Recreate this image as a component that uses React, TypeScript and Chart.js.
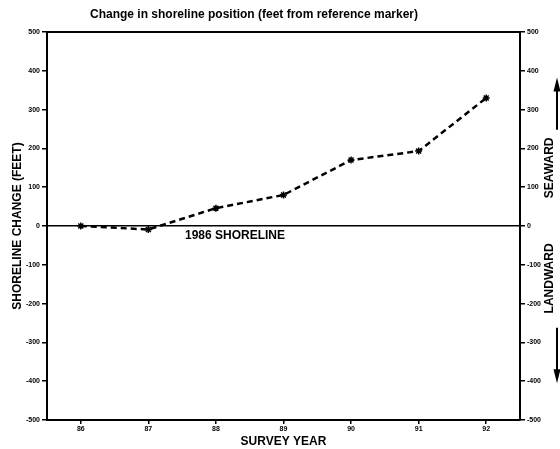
import React, { useEffect, useRef } from "react";
import { Chart, registerables } from "chart.js";

Chart.register(...registerables);

const years = ["86", "87", "88", "89", "90", "91", "92"];
const shorelineChange = [0, -9, 46, 80, 170, 193, 330];
const yMin = -500;
const yMax = 500;
const yStep = 100;
const titleText = "Change in shoreline position (feet from reference marker)";
const yTitle = "SHORELINE CHANGE (FEET)";
const xTitle = "SURVEY YEAR";
const baselineLabel = "1986 SHORELINE";
const seaward = "SEAWARD";
const landward = "LANDWARD";

const FONT = '"Liberation Sans", Arial, sans-serif';

const annotations = {
  id: "annotations",
  afterDraw(chart: any) {
    const { ctx, chartArea, scales } = chart;
    ctx.save();
    ctx.fillStyle = "#000";
    ctx.strokeStyle = "#000";
    // top border
    ctx.lineWidth = 2;
    ctx.beginPath();
    ctx.moveTo(chartArea.left, chartArea.top);
    ctx.lineTo(chartArea.right, chartArea.top);
    ctx.stroke();
    // title
    ctx.font = `bold 12px ${FONT}`;
    ctx.textAlign = "center";
    ctx.textBaseline = "middle";
    ctx.fillText(titleText, 254, 15);
    // baseline label
    const y0 = scales.y.getPixelForValue(0);
    ctx.font = `bold 12px ${FONT}`;
    ctx.textAlign = "left";
    ctx.fillText(baselineLabel, chartArea.left + 138, y0 + 10);
    // side labels
    const xs = 550;
    ctx.font = `bold 12px ${FONT}`;
    ctx.textAlign = "center";
    ctx.save();
    ctx.translate(xs, scales.y.getPixelForValue(150));
    ctx.rotate(-Math.PI / 2);
    ctx.fillText(seaward, 0, 0);
    ctx.restore();
    ctx.save();
    ctx.translate(xs, scales.y.getPixelForValue(-135));
    ctx.rotate(-Math.PI / 2);
    ctx.fillText(landward, 0, 0);
    ctx.restore();
    // arrows
    const ax = 557;
    ctx.lineWidth = 2;
    const upTail = scales.y.getPixelForValue(248);
    const upHead = scales.y.getPixelForValue(383);
    ctx.beginPath();
    ctx.moveTo(ax, upTail);
    ctx.lineTo(ax, upHead + 10);
    ctx.stroke();
    ctx.beginPath();
    ctx.moveTo(ax, upHead);
    ctx.lineTo(ax - 3.5, upHead + 14);
    ctx.lineTo(ax + 3.5, upHead + 14);
    ctx.closePath();
    ctx.fill();
    const dnTail = scales.y.getPixelForValue(-262);
    const dnHead = scales.y.getPixelForValue(-405);
    ctx.beginPath();
    ctx.moveTo(ax, dnTail);
    ctx.lineTo(ax, dnHead - 10);
    ctx.stroke();
    ctx.beginPath();
    ctx.moveTo(ax, dnHead);
    ctx.lineTo(ax - 3.5, dnHead - 14);
    ctx.lineTo(ax + 3.5, dnHead - 14);
    ctx.closePath();
    ctx.fill();
    ctx.restore();
  },
};

export default function App() {
  const ref = useRef<HTMLCanvasElement>(null);
  useEffect(() => {
    if (!ref.current) return;
    const tickFont = { family: FONT, size: 7, weight: "bold" as const };
    const chart = new Chart(ref.current, {
      type: "line",
      data: {
        labels: years,
        datasets: [
          {
            data: shorelineChange,
            borderColor: "#000",
            backgroundColor: "#000",
            borderWidth: 2.5,
            borderDash: [6, 4],
            pointStyle: "star",
            pointRadius: 3.5,
            pointBorderWidth: 1.5,
            pointBorderColor: "#000",
            pointBackgroundColor: "#000",
            tension: 0,
            fill: false,
          },
        ],
      },
      options: {
        animation: false,
        responsive: false,
        layout: { padding: { top: 32, left: 0, right: 0, bottom: 0 } },
        plugins: { legend: { display: false }, tooltip: { enabled: false }, title: { display: false } },
        scales: {
          x: {
            type: "category",
            offset: true,
            grid: { drawOnChartArea: false, drawTicks: true, tickLength: 4, color: "#000", lineWidth: 1.5 },
            border: { display: true, color: "#000", width: 2 },
            ticks: { font: tickFont, color: "#000", padding: 1, maxRotation: 0 },
            title: {
              display: true,
              text: xTitle,
              color: "#000",
              font: { family: FONT, size: 12, weight: "bold" },
              padding: { top: 0, bottom: 0 },
            },
            afterFit: (s: any) => {
              s.height = 29;
            },
          },
          y: {
            position: "left",
            min: yMin,
            max: yMax,
            ticks: { stepSize: yStep, font: tickFont, color: "#000", padding: 2 },
            grid: {
              drawOnChartArea: true,
              color: (c: any) => (c.tick && c.tick.value === 0 ? "#000" : "rgba(0,0,0,0)"),
              tickColor: "#000",
              lineWidth: 1.5,
              tickLength: 5,
            },
            border: { display: true, color: "#000", width: 2 },
            title: {
              display: true,
              text: yTitle,
              color: "#000",
              font: { family: FONT, size: 12, weight: "bold" },
              padding: { top: 10, bottom: 0 },
            },
            afterFit: (s: any) => {
              s.width = 47;
            },
          },
          y2: {
            position: "right",
            min: yMin,
            max: yMax,
            ticks: { stepSize: yStep, font: tickFont, color: "#000", padding: 2 },
            grid: { drawOnChartArea: false, tickColor: "#000", lineWidth: 1.5, tickLength: 5 },
            border: { display: true, color: "#000", width: 2 },
            afterFit: (s: any) => {
              s.width = 40;
            },
          },
        },
      },
      plugins: [annotations],
    });
    return () => chart.destroy();
  }, []);
  return (
    <div style={{ position: "absolute", left: 0, top: 0, width: 560, height: 449, background: "#fff" }}>
      <canvas ref={ref} width={560} height={449} />
    </div>
  );
}
